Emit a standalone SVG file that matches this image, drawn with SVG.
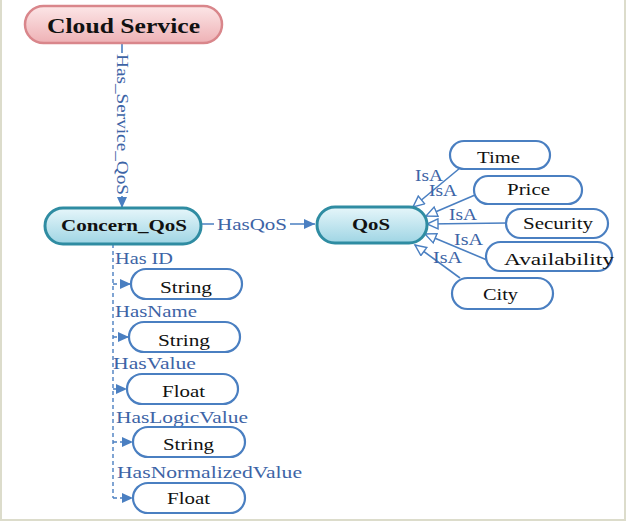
<svg xmlns="http://www.w3.org/2000/svg" width="628" height="527" viewBox="0 0 628 527" font-family="'Liberation Serif', 'Times New Roman', 'DejaVu Serif', serif">
<style>
.nt{fill:#111;font-size:17px;text-anchor:middle}
.bt{fill:#111;font-weight:bold;text-anchor:middle}
.lb{fill:#3d64a6;font-size:17px}
.at{fill:#fff;stroke:#4a7fc1;stroke-width:2.2}
.ed{fill:none;stroke:#4a7fc1;stroke-width:1.6}
.ds{fill:none;stroke:#4a7fc1;stroke-width:1.4;stroke-dasharray:4 3}
</style>
<defs>
<linearGradient id="gp" x1="0" y1="0" x2="0" y2="1">
<stop offset="0" stop-color="#fce6e7"/><stop offset="1" stop-color="#eeb1b5"/>
</linearGradient>
<linearGradient id="gc" x1="0" y1="0" x2="0" y2="1">
<stop offset="0" stop-color="#e6f6fa"/><stop offset="1" stop-color="#9fd5e4"/>
</linearGradient>
<marker id="af" markerUnits="userSpaceOnUse" markerWidth="12" markerHeight="10" refX="11" refY="5" orient="auto">
<path d="M0,0 L11,5 L0,10 Z" fill="#4a7fc1"/>
</marker>
<marker id="ah" markerUnits="userSpaceOnUse" markerWidth="14" markerHeight="14" refX="12" refY="6" orient="auto">
<path d="M1,1 L12,6 L1,11 Z" fill="#fff" stroke="#4a7fc1" stroke-width="1.4"/>
</marker>
</defs>
<rect width="628" height="527" fill="#fff"/>
<g id="frame" stroke="#dcdccb" stroke-width="2" fill="none">
<line x1="1" y1="0" x2="1" y2="521"/>
<line x1="625" y1="0" x2="625" y2="521"/>
<line x1="0" y1="520" x2="626" y2="520"/>
</g>
<g id="connectors">
<line class="ed" x1="122" y1="43" x2="122" y2="208" marker-end="url(#af)"/>
<rect x="114" y="53" width="20" height="143" fill="#fff"/>
<text class="lb" transform="translate(117,54) rotate(90)" font-size="18" textLength="141" lengthAdjust="spacingAndGlyphs">Has_Service_QoS</text>
<line class="ed" x1="201" y1="224" x2="315" y2="224" marker-end="url(#af)"/>
<rect x="214" y="214" width="76" height="20" fill="#fff"/>
<text class="lb" x="217" y="230" textLength="70" lengthAdjust="spacingAndGlyphs">HasQoS</text>
<line class="ed" x1="460" y1="168" x2="413" y2="207" marker-end="url(#ah)"/>
<line class="ed" x1="475" y1="195" x2="426" y2="216" marker-end="url(#ah)"/>
<line class="ed" x1="507" y1="223" x2="427" y2="224" marker-end="url(#ah)"/>
<line class="ed" x1="487" y1="260" x2="425" y2="234" marker-end="url(#ah)"/>
<line class="ed" x1="460" y1="278" x2="415" y2="245" marker-end="url(#ah)"/>
<text class="lb" x="415" y="181" textLength="28" lengthAdjust="spacingAndGlyphs">IsA</text>
<text class="lb" x="429" y="196" textLength="28" lengthAdjust="spacingAndGlyphs">IsA</text>
<text class="lb" x="449" y="220" textLength="28" lengthAdjust="spacingAndGlyphs">IsA</text>
<text class="lb" x="454" y="245" textLength="29" lengthAdjust="spacingAndGlyphs">IsA</text>
<text class="lb" x="433" y="263" textLength="29" lengthAdjust="spacingAndGlyphs">IsA</text>
<path class="ds" d="M113,244 V498"/>
<line class="ds" x1="113" y1="284" x2="131" y2="284" marker-end="url(#af)"/>
<line class="ds" x1="113" y1="337" x2="129" y2="337" marker-end="url(#af)"/>
<line class="ds" x1="113" y1="389" x2="127" y2="389" marker-end="url(#af)"/>
<line class="ds" x1="113" y1="442" x2="133" y2="442" marker-end="url(#af)"/>
<line class="ds" x1="113" y1="498" x2="133" y2="498" marker-end="url(#af)"/>
<text class="lb" x="115" y="264" textLength="58" lengthAdjust="spacingAndGlyphs">Has ID</text>
<text class="lb" x="115" y="317" textLength="82" lengthAdjust="spacingAndGlyphs">HasName</text>
<text class="lb" x="113" y="369" textLength="83" lengthAdjust="spacingAndGlyphs">HasValue</text>
<text class="lb" x="116" y="423" textLength="132" lengthAdjust="spacingAndGlyphs">HasLogicValue</text>
<text class="lb" x="117" y="478" textLength="185" lengthAdjust="spacingAndGlyphs">HasNormalizedValue</text>
</g>
<g id="cloud-service">
<rect x="25" y="6" width="197" height="37" rx="18.5" fill="url(#gp)" stroke="#d9868b" stroke-width="2.5"/>
<text class="bt" x="123.5" y="33" font-size="21" textLength="153" lengthAdjust="spacingAndGlyphs">Cloud Service</text>
</g>
<g id="concern-qos">
<rect x="45" y="208" width="156" height="36" rx="18" fill="url(#gc)" stroke="#2f8ca2" stroke-width="3"/>
<text class="bt" x="124" y="231" font-size="17" textLength="126" lengthAdjust="spacingAndGlyphs">Concern_QoS</text>
</g>
<g id="qos">
<rect x="317" y="207" width="110" height="36" rx="18" fill="url(#gc)" stroke="#2f8ca2" stroke-width="3"/>
<text class="bt" x="371" y="230" font-size="17" textLength="38" lengthAdjust="spacingAndGlyphs">QoS</text>
</g>
<g id="time">
<rect class="at" x="450" y="141" width="100" height="28" rx="14"/>
<text class="nt" x="498.5" y="163" textLength="43" lengthAdjust="spacingAndGlyphs">Time</text>
</g>
<g id="price">
<rect class="at" x="474" y="176" width="108" height="28" rx="14"/>
<text class="nt" x="528.5" y="195" textLength="43" lengthAdjust="spacingAndGlyphs">Price</text>
</g>
<g id="security">
<rect class="at" x="506" y="209" width="102" height="29" rx="14.5"/>
<text class="nt" x="558" y="229" textLength="70" lengthAdjust="spacingAndGlyphs">Security</text>
</g>
<g id="availability">
<rect class="at" x="486" y="242" width="126" height="29" rx="14.5"/>
<text class="nt" x="559" y="265" textLength="110" lengthAdjust="spacingAndGlyphs">Availability</text>
</g>
<g id="city">
<rect class="at" x="452" y="278" width="101" height="31" rx="15.5"/>
<text class="nt" x="500.5" y="300" textLength="35" lengthAdjust="spacingAndGlyphs">City</text>
</g>
<g id="string-id">
<rect class="at" x="131" y="269" width="111" height="30" rx="15"/>
<text class="nt" x="186" y="293" textLength="52" lengthAdjust="spacingAndGlyphs">String</text>
</g>
<g id="string-name">
<rect class="at" x="129" y="322" width="111" height="30" rx="15"/>
<text class="nt" x="184" y="346" textLength="52" lengthAdjust="spacingAndGlyphs">String</text>
</g>
<g id="float-value">
<rect class="at" x="127" y="374" width="111" height="30" rx="15"/>
<text class="nt" x="183.5" y="397" textLength="43" lengthAdjust="spacingAndGlyphs">Float</text>
</g>
<g id="string-logic">
<rect class="at" x="133" y="427" width="112" height="30" rx="15"/>
<text class="nt" x="188.5" y="450" textLength="51" lengthAdjust="spacingAndGlyphs">String</text>
</g>
<g id="float-normalized">
<rect class="at" x="133" y="483" width="112" height="30" rx="15"/>
<text class="nt" x="188.5" y="504" textLength="43" lengthAdjust="spacingAndGlyphs">Float</text>
</g>
</svg>
